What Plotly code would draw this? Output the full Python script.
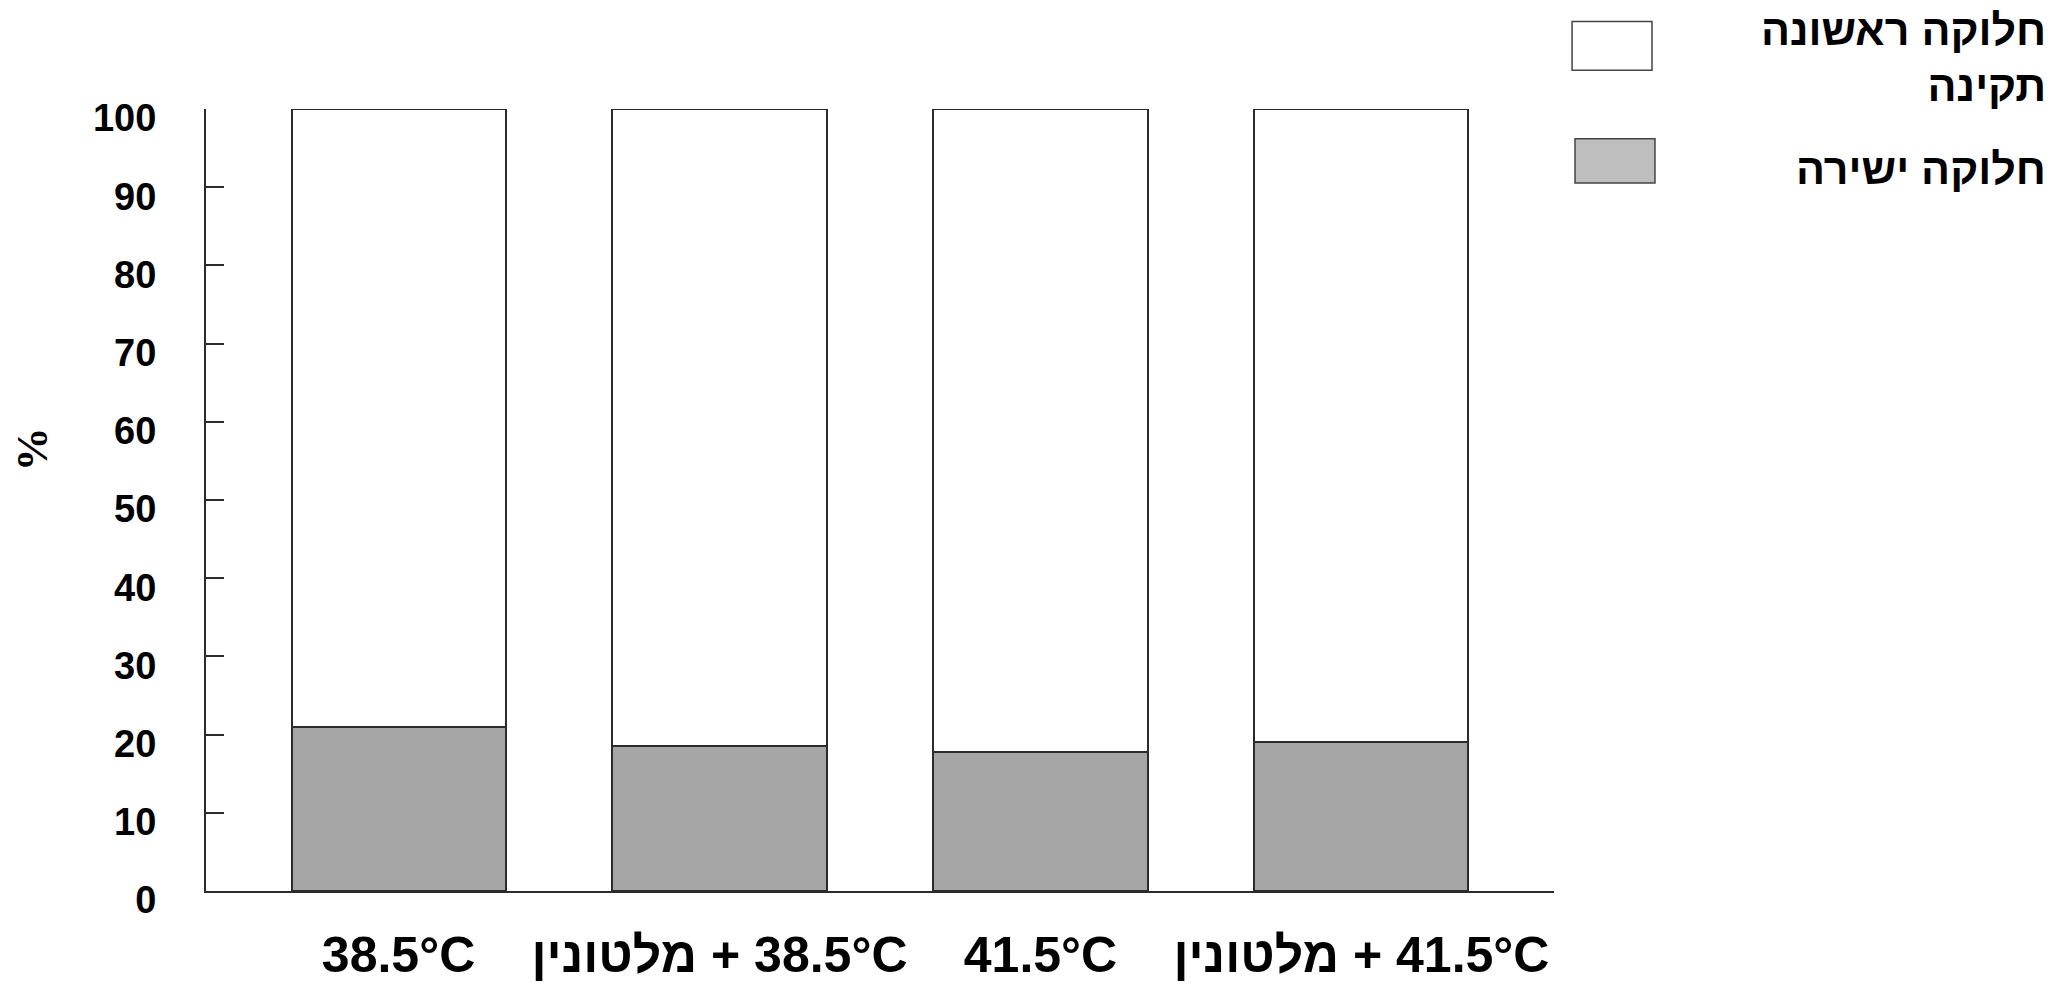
import plotly.graph_objects as go

# ---- data ----
categories = ["38.5°C", "מלטונין\u200e + 38.5°C", "41.5°C", "מלטונין\u200e + 41.5°C"]
direct_division = [21.0, 18.5, 17.8, 19.0]          # חלוקה ישירה (gray, bottom)
normal_first_division = [79.0, 81.5, 82.2, 81.0]    # חלוקה ראשונה תקינה (white, top)
name_direct = "חלוקה ישירה"
name_normal = "חלוקה ראשונה<br>תקינה"
y_tick_values = [0, 10, 20, 30, 40, 50, 60, 70, 80, 90, 100]
y_minor_tick_values = [10, 20, 30, 40, 50, 60, 70, 80, 90]
y_axis_label = "%"

FONT = "Liberation Sans, Arial, sans-serif"
LINE = "#2b2b2b"

fig = go.Figure()
fig.add_trace(go.Bar(
    x=categories, y=direct_division, name=name_direct,
    marker=dict(color="#a6a6a6", line=dict(color=LINE, width=2)),
    showlegend=False,
))
fig.add_trace(go.Bar(
    x=categories, y=normal_first_division, name=name_normal,
    marker=dict(color="#ffffff", line=dict(color=LINE, width=2)),
    showlegend=False,
))
# invisible trace on second y axis, used only to draw inward ticks
fig.add_trace(go.Scatter(x=[categories[0]], y=[0], yaxis="y2", mode="markers",
                         marker=dict(opacity=0), showlegend=False, hoverinfo="skip"))

fig.update_layout(
    width=2056, height=985,
    barmode="stack", bargap=0.333,
    paper_bgcolor="white", plot_bgcolor="white",
    margin=dict(l=206, r=502, t=109, b=94, pad=0, autoexpand=False),
    font=dict(family=FONT, color="black"),
    xaxis=dict(
        type="category", range=[-0.6, 3.6], automargin=False,
        showline=True, linecolor=LINE, linewidth=2,
        ticks="", showgrid=False, zeroline=False,
        tickfont=dict(family=FONT, size=50, weight="bold", color="black"),
        ticklabelstandoff=19,
    ),
    yaxis=dict(
        range=[0, 100], tickvals=y_tick_values, automargin=False,
        showline=True, linecolor=LINE, linewidth=2,
        ticks="", showgrid=False, zeroline=False,
        tickfont=dict(family=FONT, size=38, weight="bold", color="black"),
        ticklabelstandoff=40, ticklabelshift=9,
    ),
    yaxis2=dict(
        overlaying="y", anchor="x", side="left", range=[0, 100], automargin=False,
        tickvals=y_minor_tick_values, ticks="inside", ticklen=18, tickwidth=2,
        tickcolor=LINE, showticklabels=False, showline=False,
        showgrid=False, zeroline=False,
    ),
    shapes=[
        dict(type="rect", xref="paper", yref="paper",
             x0=1.0134, x1=1.0727, y0=1.0495, y1=1.1118,
             fillcolor="white", line=dict(color="#444444", width=1.5)),
        dict(type="rect", xref="paper", yref="paper",
             x0=1.0156, x1=1.0749, y0=0.9054, y1=0.9621,
             fillcolor="#bebebe", line=dict(color="#444444", width=1.5)),
    ],
    annotations=[
        dict(text=name_normal, xref="paper", yref="paper", x=1.3665, y=1.0648,
             xanchor="right", yanchor="middle", align="right", showarrow=False,
             font=dict(family=FONT, size=43, weight="bold", color="black")),
        dict(text=name_direct, xref="paper", yref="paper", x=1.3665, y=0.9229,
             xanchor="right", yanchor="middle", align="right", showarrow=False,
             font=dict(family=FONT, size=43, weight="bold", color="black")),
        dict(text=y_axis_label, xref="paper", yref="paper", x=-0.1290, y=0.565,
             xanchor="center", yanchor="middle", textangle=-90, showarrow=False,
             font=dict(family="Liberation Serif, Times New Roman, serif", size=44,
                       weight="bold", color="black")),
    ],
)

fig.write_html("out.html", config={"displayModeBar": False},
               post_script="document.body.style.margin='0px';")
